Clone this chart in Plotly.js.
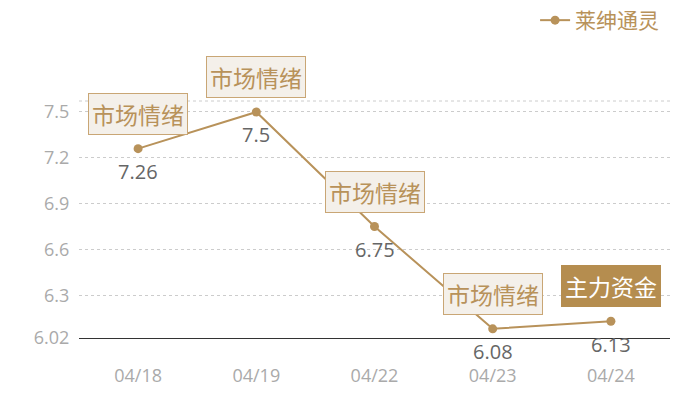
<!DOCTYPE html>
<html><head><meta charset="utf-8">
<script src="https://cdn.plot.ly/plotly-3.0.1.min.js"></script>
<style>html,body{margin:0;padding:0;background:#fff}#chart{width:700px;height:400px}</style>
</head><body><div id="chart"></div>
<script>
const categories = ['04/18', '04/19', '04/22', '04/23', '04/24'];
const values = [7.26, 7.5, 6.75, 6.08, 6.13];
const seriesName = '莱绅通灵';
const tags = ['市场情绪', '市场情绪', '市场情绪', '市场情绪', '主力资金'];
const tagDark = [false, false, false, false, true];
const yTicks = [6.02, 6.3, 6.6, 6.9, 7.2, 7.5];
const yRange = [6.02, 7.572];

const gold = '#b8925a';
const annotations = [];
categories.forEach((c, i) => {
  annotations.push({
    x: i, y: values[i], xref: 'x', yref: 'y', showarrow: false,
    text: String(values[i]), yshift: -23,
    font: {family: 'Open Sans, Noto Sans, sans-serif', size: 20, color: '#666'}
  });
  annotations.push({
    x: i, y: values[i], xref: 'x', yref: 'y', showarrow: false,
    text: tags[i], yshift: 35,
    font: {family: 'Noto Sans CJK SC, sans-serif', size: 23, color: tagDark[i] ? '#ffffff' : gold},
    bgcolor: tagDark[i] ? '#b58d4f' : '#f4f0ea',
    bordercolor: tagDark[i] ? '#b58d4f' : '#c9a675',
    borderwidth: 1, borderpad: 3
  });
});

const data = [{
  type: 'scatter', mode: 'lines+markers', name: seriesName,
  x: categories.map((c, i) => i), y: values,
  line: {color: gold, width: 2},
  marker: {color: gold, size: 9}
}];

const layout = {
  width: 700, height: 400,
  margin: {l: 79, r: 30, t: 101, b: 62},
  paper_bgcolor: '#fff', plot_bgcolor: '#fff',
  showlegend: true,
  legend: {orientation: 'h', x: 0.99, xanchor: 'right', y: 1, yref: 'container', yanchor: 'top',
    font: {family: 'Noto Sans CJK SC, sans-serif', size: 21, color: gold}},
  xaxis: {
    range: [-0.5, 4.5], tickvals: [0, 1, 2, 3, 4], ticktext: categories,
    showgrid: false, zeroline: false, showline: true, linecolor: '#333', linewidth: 1,
    ticks: 'outside', ticklen: 21, tickcolor: 'rgba(0,0,0,0)',
    tickfont: {family: 'Open Sans, sans-serif', size: 18, color: '#aaa'}, fixedrange: true
  },
  yaxis: {
    range: yRange, tickvals: yTicks, ticktext: yTicks.map(String),
    showgrid: true, gridcolor: '#ccc', griddash: 'dot', gridwidth: 1,
    zeroline: false, showline: false,
    ticks: 'outside', ticklen: 5, tickcolor: 'rgba(0,0,0,0)',
    tickfont: {family: 'Open Sans, sans-serif', size: 18, color: '#aaa'}
  },
  shapes: [{type: 'line', xref: 'paper', yref: 'paper', x0: 0, x1: 1, y0: 1, y1: 1,
    line: {color: '#ccc', width: 1, dash: 'dot'}}],
  annotations: annotations
};
Plotly.newPlot('chart', data, layout, {displayModeBar: false, staticPlot: true});
</script></body></html>
